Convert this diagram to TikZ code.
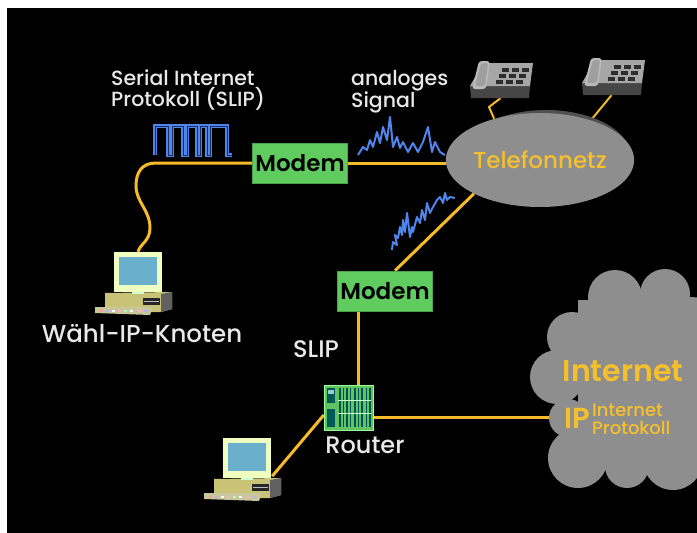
\documentclass[tikz,border=0pt]{standalone}
\usepackage{fontspec}
\setmainfont{Poppins}
\newfontfamily\medfont{Poppins Medium}
\newfontfamily\semifont{Poppins SemiBold}
\usetikzlibrary{shapes.geometric}
\pgfdeclarelayer{bg}
\pgfdeclarelayer{wires}
\pgfsetlayers{bg,wires,main}

\definecolor{wireyellow}{RGB}{246,186,42}
\definecolor{modemgreen}{RGB}{96,204,96}
\definecolor{signalblue}{RGB}{80,134,236}
\definecolor{signaldark}{RGB}{28,44,100}
\definecolor{netgray}{RGB}{142,142,142}
\definecolor{netshadow}{RGB}{80,80,80}
\definecolor{labelwhite}{RGB}{232,232,232}
\definecolor{labelyellow}{RGB}{246,192,44}

\tikzset{
  wire/.style={draw=wireyellow, line width=3pt},
  modembox/.style={fill=modemgreen, draw=modemgreen!80!black, line width=0.6pt,
    minimum width=95pt, minimum height=40pt, inner sep=0pt,
    font=\semifont\fontsize{23}{23}\selectfont, text=black},
  whitelabel/.style={text=labelwhite, inner sep=0pt},
  yellowlabel/.style={text=labelyellow, inner sep=0pt},
  squarewave/.style={line width=3.2pt, draw=signalblue, line join=miter},
  analogwave/.style={line width=2pt, draw=signalblue, line join=round},
  frame/.style={minimum width=48pt, minimum height=40pt, inner sep=0pt},
  pics/phone/.style={code={
    % front face, top face, handset, keypad
    \fill[gray!55!black] (0,26) -- (60,26) -- (59,38) -- (1,38) -- cycle;
    \fill[gray!70] (13,3) -- (63,3) -- (60,26) -- (0,26) -- cycle;
    \fill[gray!55, rounded corners=3pt] (9,1) -- (20,1) -- (16,29) -- (2,29) -- cycle;
    \fill[gray!75, rounded corners=2pt] (11,3) -- (18,3) -- (15,26) -- (5,26) -- cycle;
    \foreach \r/\s in {8/0, 14/-3, 20/-6}
      \foreach \c in {32,42,52}
        \fill[gray!35!black] (\c+\s,\r) rectangle ++(7,3.5);
  }},
  pics/pc/.style={code={
    % base unit with drive slot, keyboard, monitor
    \fill[yellow!45!gray!90!white] (-9,41) -- (58,40) -- (58,57) -- (47,60) -- (-9,60) -- cycle;
    \fill[gray!75!black] (47,42) -- (58,40) -- (58,57) -- (47,60) -- cycle;
    \fill[black!85] (29,46) rectangle (46,53);
    \draw[gray!50, line width=0.5pt] (30,49.5) -- (45,49.5);
    \fill[yellow!30!gray!70!white] (-19,55) -- (39,55) -- (36,63) -- (-19,61) -- cycle;
    \foreach \k/\kc in {-14/red!40, -8/blue!30, -2/white, 4/red!30, 10/green!30, 16/white, 24/red!30, 30/blue!30}
      \fill[\kc] (\k,57.5) rectangle ++(3,2);
    \fill[green!20!white] (18,38) rectangle (30,42);
    \fill[green!25!yellow!25!white] (0,0) rectangle (48,40);
    \fill[cyan!55!gray!90!white] (5,5) rectangle (43,33);
  }},
  pics/routerbox/.style={code={
    \fill[green!45!gray!85!white] (0,0) rectangle (49,45);
    \draw[green!40!white, line width=0.6pt] (0,0) rectangle (49,45);
    \fill[teal!70!black] (3,3) rectangle (11,18);
    \fill[teal!40!white] (4,5) rectangle (10,9);
    \foreach \v in {15,18.5,22,25.5,30,33.5,37,41.5,45}
      \fill[teal!65!black] (\v,3) rectangle ++(1.6,39);
    \draw[green!20!white, line width=0.6pt] (14,15) -- (47,15) (14,28) -- (47,28);
    \fill[teal!70!black] (3,24) rectangle (11,42);
  }}
}

\begin{document}
\begin{tikzpicture}[x=1pt, y=-1pt]
  \useasboundingbox (0,0) rectangle (697,533);
  \clip (0,0) rectangle (697,533);

  % dark backdrop
  \begin{pgfonlayer}{bg}
    \fill[white] (0,0) rectangle (697,533);
    \fill[black] (7,8) rectangle (697,533);
  \end{pgfonlayer}

  % telephone network with its shadow
  \fill[netshadow] (546,157) ellipse [x radius=85, y radius=47];
  \node[ellipse, fill=netgray, minimum width=170pt, minimum height=94pt, inner sep=0pt,
        text=labelyellow, font=\medfont\fontsize{23}{23}\selectfont] (tel) at (540,160) {Telefonnetz};

  % telephones
  \pic at (470,60) {phone};
  \node[minimum width=65pt, minimum height=38pt, inner sep=0pt] (ph1) at (502.5,79) {};
  \pic at (582,57) {phone};
  \node[minimum width=65pt, minimum height=38pt, inner sep=0pt] (ph2) at (614.5,76) {};

  % modems
  \node[modembox] (m1) at (300,163) {Modem};
  \node[modembox] (m2) at (385,291) {Modem};

  % router
  \node[minimum width=49pt, minimum height=45pt, inner sep=0pt] (router) at (348.5,407.5) {};
  \pic at (324,385) {routerbox};

  % computers
  \pic at (114,252) {pc};
  \node[frame] (pc1) at (138,272) {};
  \pic at (223,438) {pc};
  \node[frame] (pc2) at (247,458) {};

  % internet cloud, built from overlapping discs
  \foreach \cx/\cy/\cr in {615/297/27, 665/294/25, 692/322/25, 572/337/25, 557/377/27,
                           568/418/19, 578/458/30, 627/466/22, 673/460/30}
    \fill[netgray] (\cx,\cy) circle [radius=\cr];
  \fill[netgray] (578,300) rectangle (697,470);
  \coordinate (ipin) at (560,417);
  \node[yellowlabel, font=\semifont\fontsize{30}{30}\selectfont] (inet) at (623,371) {Internet};
  \node[yellowlabel, font=\semifont\fontsize{29}{29}\selectfont] (ip) at (577,418) {IP};
  \node[yellowlabel, anchor=west, align=left, font=\medfont\fontsize{18}{18}\selectfont] (iptext) at (592,419) {Internet\\Protokoll};

  % connecting lines
  \begin{pgfonlayer}{wires}
    \draw[wire] (m1.east) -- (m1.east -| tel.west);
    \draw[wire] (m1.west) -- (156,163)
      .. controls (142,163) and (136,172) .. (136,186)
      .. controls (136,202) and (150,210) .. (150,228)
      .. controls (150,241) and (140,244) .. (pc1.north);
    \draw[wire] (tel.207) -- ([xshift=10pt]m2.north);
    \draw[wire] ([xshift=-27pt]m2.south) -- ([xshift=9.5pt]router.north);
    \draw[wire] ([yshift=-9.5pt]router.east) -- (ipin);
    \draw[wire] ([yshift=-7.5pt]router.west) -- ([xshift=1pt,yshift=2pt]pc2.south east);
    \draw[draw=wireyellow, line width=2pt] ([xshift=-2pt]ph1.south) -- (489,107) -- (tel.138);
    \draw[draw=wireyellow, line width=2pt] ([xshift=-3pt]ph2.south) -- (tel.38);
  \end{pgfonlayer}

  % digital signal
  \draw[squarewave] (155,155) -- (155,126) -- (168,126) -- (168,155) -- (172,155) -- (172,126)
    -- (183,126) -- (183,155) -- (187,155) -- (187,126) -- (197,126) -- (197,155)
    -- (200,155) -- (200,126) -- (207,126) -- (207,155) -- (210,155) -- (210,126)
    -- (227,126) -- (227,155) -- (232,155);
  \draw[line width=0.9pt, draw=signaldark] (155,155) -- (155,126) -- (168,126) -- (168,155) -- (172,155) -- (172,126)
    -- (183,126) -- (183,155) -- (187,155) -- (187,126) -- (197,126) -- (197,155)
    -- (200,155) -- (200,126) -- (207,126) -- (207,155) -- (210,155) -- (210,126)
    -- (227,126) -- (227,155) -- (232,155);

  % analog signals
  \draw[analogwave] (358,155) -- (363,147) -- (367,150) -- (370,140) -- (373,147) -- (377,132)
    -- (380,143) -- (383,127) -- (387,140) -- (390,117) -- (393,147) -- (397,137) -- (400,148)
    -- (403,142) -- (408,152) -- (413,143) -- (418,152) -- (423,142) -- (428,127) -- (432,152)
    -- (435,142) -- (440,152) -- (445,155);
  \draw[analogwave] (392,250) -- (393,242) -- (397,245) -- (395,235) -- (398,238) -- (400,227)
    -- (402,235) -- (403,220) -- (405,232) -- (407,213) -- (410,237) -- (412,227) -- (413,232)
    -- (417,217) -- (420,223) -- (422,210) -- (425,220) -- (427,203) -- (430,213) -- (433,207)
    -- (437,200) -- (440,197) -- (443,203) -- (445,193) -- (447,200) -- (450,197) -- (455,198);

  % labels
  \node[whitelabel, anchor=north west, align=left, font=\medfont\fontsize{20.5}{21}\selectfont] (sliplong) at (111,70) {Serial Internet\\Protokoll (SLIP)};
  \node[whitelabel, anchor=north west, align=left, font=\medfont\fontsize{20.5}{21}\selectfont] (analog) at (351,70) {analoges\\Signal};
  \node[whitelabel, font=\medfont\fontsize{24}{24}\selectfont] (slip) at (316,349) {SLIP};
  \node[whitelabel, font=\medfont\fontsize{24}{24}\selectfont] (routerlbl) at (365,445) {Router};
  \node[whitelabel, font=\medfont\fontsize{24.5}{25}\selectfont] (dialnode) at (142,334) {Wähl-IP-Knoten};
\end{tikzpicture}
\end{document}
